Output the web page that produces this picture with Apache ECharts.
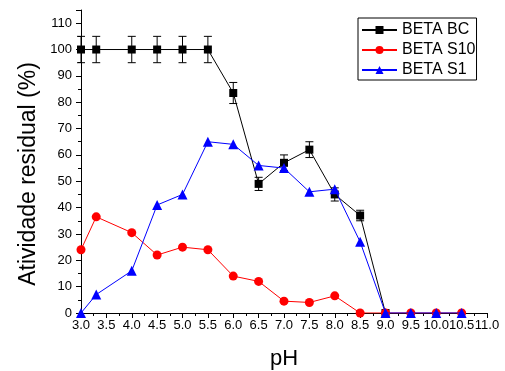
<!DOCTYPE html>
<html>
<head>
<meta charset="utf-8">
<script src="https://cdn.jsdelivr.net/npm/echarts@6/dist/echarts.min.js"></script>
<style>
  html, body { margin: 0; padding: 0; background: #fff; }
  #chart { width: 505px; height: 371px; }
</style>
</head>
<body>
<div id="chart"></div>
<script>
// Residual activity (%) versus pH for three enzyme preparations
const phBC  = [3.0, 3.3, 4.0, 4.5, 5.0, 5.5, 6.0, 6.5, 7.0, 7.5, 8.0, 8.5, 9.0];
const betaBC = [100, 100, 100, 100, 100, 100, 83.5, 49, 57, 62, 45, 37, 0];
const betaBCErr = [5, 5, 5, 5, 5, 5, 4, 2.5, 3, 3, 2.5, 2, 0];

const phS = [3.0, 3.3, 4.0, 4.5, 5.0, 5.5, 6.0, 6.5, 7.0, 7.5, 8.0, 8.5, 9.0, 9.5, 10.0, 10.5];
const betaS10 = [24, 36.5, 30.5, 22, 25, 24, 14, 12, 4.5, 4, 6.5, 0, 0, 0, 0, 0];
const betaS1  = [0, 7, 16, 41, 45, 65, 64, 56, 55, 46, 47, 27, 0, 0, 0, 0];

const xTicks = { min: 3.0, max: 11.0, step: 0.5 };
const yTicks = { min: 0, max: 115, step: 10 };

const xTitle = 'pH';
const yTitle = 'Atividade residual (%)';

const FONT = '"Liberation Sans", Arial, sans-serif';

const pairs = (xs, ys) => xs.map((x, i) => [x, ys[i]]);
const errData = phBC.map((x, i) => [x, betaBC[i], betaBCErr[i]]).filter(d => d[2] > 0);

const chart = echarts.init(document.getElementById('chart'), null, { renderer: 'canvas' });

chart.setOption({
  backgroundColor: '#fff',
  animation: false,
  grid: { left: 81, right: 18, top: 10, bottom: 58, containLabel: false, outerBoundsMode: 'none' },
  graphic: [
    {
      type: 'text',
      x: 29, y: 174,
      rotation: Math.PI / 2,
      style: {
        text: yTitle,
        font: '23px ' + FONT,
        fill: '#000',
        align: 'center',
        verticalAlign: 'middle'
      }
    }
  ],
  legend: {
    left: 358, top: 18,
    orient: 'vertical',
    backgroundColor: '#fff',
    borderColor: '#000',
    borderWidth: 1,
    borderRadius: 0,
    padding: [4, 1, 2, 3],
    itemGap: 4,
    itemWidth: 35,
    itemHeight: 10,
    textStyle: { fontFamily: FONT, fontSize: 16, color: '#000' },
    data: ['BETA BC', 'BETA S10', 'BETA S1']
  },
  xAxis: {
    type: 'value',
    min: xTicks.min, max: xTicks.max, interval: xTicks.step,
    name: xTitle,
    nameLocation: 'middle',
    nameGap: 35,
    nameTextStyle: { fontFamily: FONT, fontSize: 22, color: '#000' },
    axisLine: { show: true, onZero: false, lineStyle: { color: '#000', width: 1 } },
    axisTick: { show: true, inside: false, length: 5, lineStyle: { color: '#000' } },
    minorTick: { show: true, splitNumber: 2, length: 3, lineStyle: { color: '#000' } },
    axisLabel: { fontFamily: FONT, fontSize: 13, color: '#000', margin: 6,
                 formatter: v => v.toFixed(1) },
    splitLine: { show: false }
  },
  yAxis: {
    type: 'value',
    min: yTicks.min, max: yTicks.max, interval: yTicks.step,
    axisLine: { show: true, lineStyle: { color: '#000', width: 1 } },
    axisTick: { show: true, inside: false, length: 5, lineStyle: { color: '#000' } },
    minorTick: { show: true, splitNumber: 2, length: 3, lineStyle: { color: '#000' } },
    axisLabel: { fontFamily: FONT, fontSize: 13, color: '#000', margin: 9, showMaxLabel: false },
    splitLine: { show: false }
  },
  series: [
    {
      name: 'BETA BC',
      type: 'line',
      data: pairs(phBC, betaBC),
      symbol: 'rect',
      symbolSize: 8,
      showAllSymbol: true,
      itemStyle: { color: '#000' },
      lineStyle: { color: '#000', width: 1 },
      z: 3
    },
    {
      name: 'BETA BC err',
      type: 'custom',
      data: errData,
      z: 4,
      silent: true,
      renderItem: (params, api) => {
        const x = api.value(0), y = api.value(1), e = api.value(2);
        const top = api.coord([x, y + e]);
        const bot = api.coord([x, y - e]);
        const cap = 4;
        const style = { stroke: '#000', lineWidth: 1 };
        return {
          type: 'group',
          children: [
            { type: 'line', shape: { x1: top[0], y1: top[1], x2: bot[0], y2: bot[1] }, style },
            { type: 'line', shape: { x1: top[0] - cap, y1: top[1], x2: top[0] + cap, y2: top[1] }, style },
            { type: 'line', shape: { x1: bot[0] - cap, y1: bot[1], x2: bot[0] + cap, y2: bot[1] }, style }
          ]
        };
      }
    },
    {
      name: 'BETA S10',
      type: 'line',
      data: pairs(phS, betaS10),
      symbol: 'circle',
      symbolSize: 9,
      showAllSymbol: true,
      itemStyle: { color: '#ff0000' },
      lineStyle: { color: '#ff0000', width: 1 },
      z: 5
    },
    {
      name: 'BETA S1',
      type: 'line',
      data: pairs(phS, betaS1),
      symbol: 'triangle',
      symbolSize: 10,
      showAllSymbol: true,
      itemStyle: { color: '#0000ff' },
      lineStyle: { color: '#0000ff', width: 1 },
      z: 6
    }
  ]
});
</script>
</body>
</html>
